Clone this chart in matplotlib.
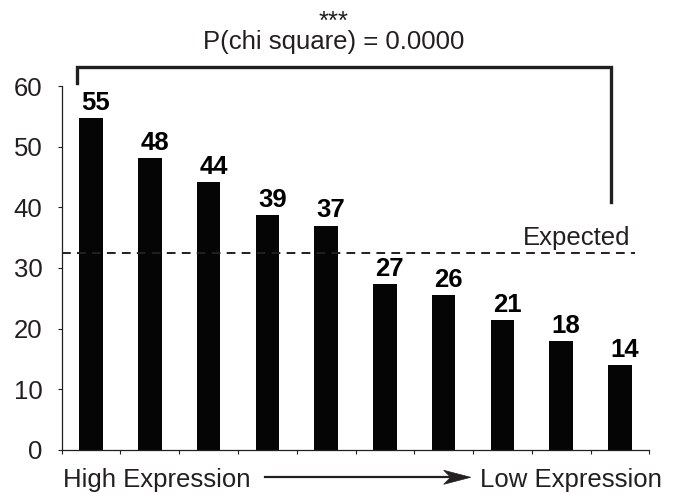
import matplotlib
matplotlib.use("Agg")
import matplotlib.pyplot as plt
from matplotlib.patches import Polygon

plt.rcParams['font.family'] = ['Liberation Sans', 'DejaVu Sans']

# Observed counts per expression bin, ordered high -> low expression
bin_counts = [54.7, 48.2, 44.1, 38.7, 37.0, 27.3, 25.6, 21.4, 18.0, 14.0]
expected_count = 32.4
y_ticks = [0, 10, 20, 30, 40, 50, 60]
title_stars = "***"
title_text = "P(chi square) = 0.0000"
expected_label = "Expected"
left_label = "High Expression"
right_label = "Low Expression"

ink = '#231f20'
fs = 18.5

W, H = 679, 494
fig = plt.figure(figsize=(W / 100, H / 100), dpi=100)
ax = fig.add_axes([0.0909, 0.0891, 0.8654, 0.7368])

n = len(bin_counts)
centers = [i + 0.5 for i in range(n)]
ax.bar(centers, bin_counts, width=0.40, color='#050505', zorder=2)

# value labels above each bar
for x, v in zip(centers, bin_counts):
    ax.annotate(f"{v:.0f}", xy=(x, v), xytext=(3.5, 5.8), textcoords='offset points',
                ha='center', va='baseline', fontsize=fs, fontweight='bold', color='black')

# expected-count reference line
ax.plot([0, 9.76], [expected_count, expected_count], ls=(0, (4.5, 3.2)), lw=1.4,
        color=ink, zorder=3, clip_on=False)
ax.annotate(expected_label, xy=(9.67, expected_count), xytext=(0, 2.5),
            textcoords='offset points', ha='right', va='bottom', fontsize=fs, color=ink)

# significance bracket spanning the bins
ax.plot([0.255, 0.255, 9.34, 9.34], [60.5, 63.2, 63.2, 40.9], color=ink, lw=2.4,
        solid_joinstyle='miter', clip_on=False, zorder=4)

ax.set_xlim(0, n)
ax.set_ylim(0, 60)
ax.set_xticks(range(n + 1))
ax.set_xticklabels([])
ax.set_yticks(y_ticks)
ax.set_yticklabels([str(t) for t in y_ticks])
ax.tick_params(axis='y', direction='out', length=3, width=0.8, colors=ink,
               labelsize=fs, pad=11, labelcolor=ink)
ax.tick_params(axis='x', direction='out', length=3, width=0.8, colors=ink)
for side in ('top', 'right'):
    ax.spines[side].set_visible(False)
for side in ('left', 'bottom'):
    ax.spines[side].set_color(ink)
    ax.spines[side].set_linewidth(0.9)

# two-line significance heading
fig.text(0.492, 1 - 10 / H, title_stars + "\n" + title_text, ha='center', va='top',
         multialignment='center', linespacing=0.78, fontsize=fs, color=ink)

fig.text(0.0928, 0.0148, left_label, ha='left', va='baseline', fontsize=fs, color=ink)
fig.text(0.707, 0.0148, right_label, ha='left', va='baseline', fontsize=fs, color=ink)

# direction arrow between the two axis captions (stealth-style head)
ay = (H - 477.3) / H
x0, tip = 265 / W, 470.7 / W
head_len, notch, half_w = 27 / W, 20 / W, 7 / H
fig.add_artist(plt.Line2D([x0, tip - notch + 0.002], [ay, ay], transform=fig.transFigure,
                          color=ink, lw=1.6))
fig.add_artist(Polygon([(tip, ay), (tip - head_len, ay + half_w), (tip - notch, ay),
                        (tip - head_len, ay - half_w)], closed=True,
                       transform=fig.transFigure, facecolor=ink, edgecolor=ink, lw=0.5))

fig.savefig('out.png', dpi=100)
